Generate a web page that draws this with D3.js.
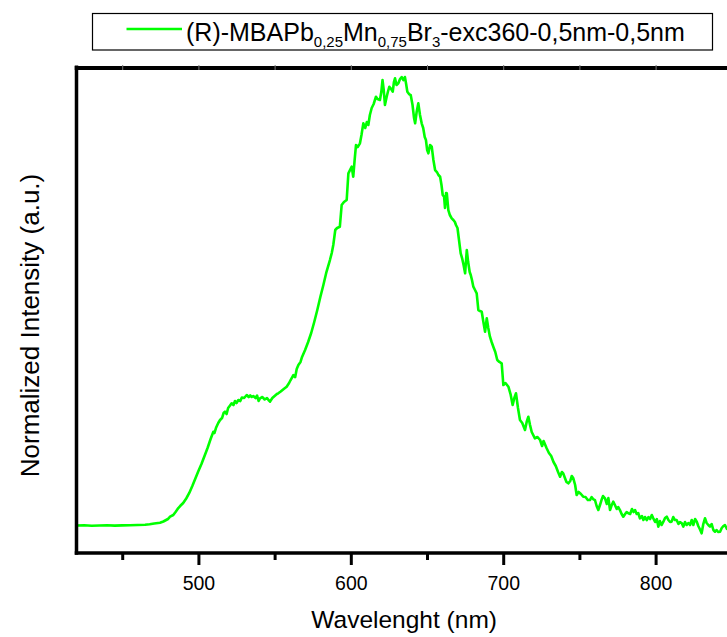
<!DOCTYPE html>
<html>
<head>
<meta charset="utf-8">
<script src="https://cdn.jsdelivr.net/npm/d3@7"></script>
<style>
  html, body { margin: 0; padding: 0; background: #fff; }
  svg { display: block; font-family: "Liberation Sans", Arial, sans-serif; }
</style>
</head>
<body>
<svg id="chart" width="727" height="637"></svg>
<script>
// Emission spectrum (normalized), wavelength in nm
const wavelength = [
  420, 425, 430, 435, 440, 445, 450, 455, 460, 465, 468, 471, 474.8, 477, 480, 481.4, 483.5, 485, 486.8, 488,
  490, 492, 494, 496, 498, 500, 502, 504, 506, 508, 509.8, 510.5, 511.5, 513, 514.2, 515.5, 516.5, 517.4, 518.5,
  519.5, 520.5, 521.8, 523, 524, 525, 526.2, 527.5, 528.5, 530, 531.7, 533, 534, 535, 536, 537.5, 538.5, 539.5, 540.4, 542,
  543.5, 545, 546, 547, 548.5, 550, 551.5, 552.4, 554, 556, 557.9, 559.5, 560.5, 562.3, 563.5, 564.5, 565.6, 567, 568, 570,
  572, 574, 576, 578, 580, 582, 584, 586.3, 587.5, 588.5, 589.8, 591, 592.8, 594, 595.5, 597.3, 598.4, 600.6, 601.6, 602.5,
  603.4, 604.5, 606, 607, 608.2, 609.5, 610.5, 611.5, 612.5, 613.7, 615, 616.5, 617.5, 619.1, 620, 620.8, 621.6, 622.4, 623.5, 624.3,
  625.3, 626.5, 627.5, 628.3, 629, 630, 631.2, 632.3, 633.4, 634.5, 635.5, 636.3, 637.1, 638.2, 639.3, 640.5, 641.5, 642.2, 643.2, 644.3,
  645.4, 646.5, 647.5, 648.5, 649.3, 650.1, 650.9, 652, 653.1, 654.2, 655.3, 656.5, 657.5, 658.6, 659.5, 660.3, 661.2, 661.8, 662.5, 663,
  664, 665, 666.2, 667.3, 668.3, 669, 670, 671, 672.1, 673, 674, 675, 676.1, 677, 678, 678.7, 679.5, 680.4, 681.5, 682.6,
  683.7, 684.8, 685.9, 687, 688.1, 689.2, 690.2, 691.3, 692.4, 693.5, 694.8, 696.1, 697.5, 699, 700.1, 701.5, 703.4, 704.8, 706.2, 707.3,
  708.4, 709.7, 711, 712.5, 714.3, 715.4, 716.5, 717.6, 718.7, 720.8, 722.5, 724.2, 725.5, 726.5, 728.5, 730, 731.5, 733, 734.5, 736,
  737.3, 738.5, 739.4, 740.5, 741.5, 742.7, 744, 745, 746, 747.2, 748.2, 749.5, 751, 752.5, 754, 755.5, 756.9, 758, 759, 760.2,
  761.3, 762.4, 763.5, 764.5, 765.5, 766.8, 768, 769, 770.1, 771.2, 772.2, 773.3, 774.5, 775.5, 776.6, 777.7, 778.8, 780, 781, 782.1,
  783.3, 784.5, 785.5, 786.5, 787.6, 788.6, 789.7, 791, 792, 793, 794.2, 795.3, 796.4, 797.5, 798.5, 799.7, 800.8, 801.8, 802.8, 803.9,
  805.1, 806.2, 807.3, 808.4, 809.5, 810.5, 811.6, 812.7, 813.8, 815, 816, 817.1, 818.2, 819.3, 820.4, 821.5, 822.6, 823.7, 824.8, 825.9,
  827, 828, 829, 830.2, 831.3, 832.4, 833.5, 834.6, 835.7, 836.8, 837.9, 839, 840, 841.2, 842.3, 843.4, 844.5, 845.5, 846.8, 848,
  849, 850
];
const intensity = [
  0.0578, 0.0582, 0.0571, 0.0578, 0.0582, 0.0576, 0.0580, 0.0584, 0.0588, 0.0592, 0.0603, 0.0620, 0.0637, 0.0662, 0.0714, 0.0763, 0.0798, 0.0861, 0.0945, 0.0987,
  0.1050, 0.1145, 0.1261, 0.1408, 0.1565, 0.1723, 0.1870, 0.2038, 0.2206, 0.2395, 0.2548, 0.2521, 0.2626, 0.2731, 0.2794, 0.2836, 0.2941, 0.2968, 0.2920,
  0.3046, 0.3088, 0.3145, 0.3109, 0.3193, 0.3151, 0.3214, 0.3193, 0.3267, 0.3256, 0.3319, 0.3277, 0.3309, 0.3277, 0.3298, 0.3256, 0.3309, 0.3193, 0.3250, 0.3277,
  0.3225, 0.3256, 0.3214, 0.3179, 0.3256, 0.3298, 0.3340, 0.3355, 0.3393, 0.3445, 0.3494, 0.3571, 0.3634, 0.3739, 0.3697, 0.3866, 0.3950, 0.4013, 0.4118, 0.4265,
  0.4433, 0.4622, 0.4853, 0.5105, 0.5378, 0.5630, 0.5903, 0.6155, 0.6303, 0.6471, 0.6786, 0.6828, 0.6855, 0.7311, 0.7374, 0.7416, 0.7977, 0.8116, 0.7905, 0.8256,
  0.8571, 0.8529, 0.8607, 0.8782, 0.9027, 0.8929, 0.9055, 0.8992, 0.9202, 0.9349, 0.9433, 0.9586, 0.9538, 0.9517, 0.9685, 0.9937, 0.9727, 0.9412, 0.9580, 0.9685,
  0.9796, 0.9748, 0.9691, 0.9895, 0.9973, 0.9832, 0.9868, 0.9958, 1.0000, 0.9937, 1.0000, 0.9853, 0.9691, 0.9643, 0.9622, 0.9412, 0.9139, 0.9027, 0.9265, 0.9447,
  0.9202, 0.9027, 0.8929, 0.8739, 0.8676, 0.8466, 0.8397, 0.8571, 0.8536, 0.8256, 0.8046, 0.8004, 0.7941, 0.7905, 0.7731, 0.7521, 0.7485, 0.7248, 0.7563, 0.7557,
  0.7206, 0.7101, 0.7032, 0.6996, 0.6954, 0.6891, 0.6828, 0.6576, 0.6296, 0.6197, 0.6050, 0.5876, 0.6366, 0.6113, 0.5903, 0.5840, 0.5735, 0.5595, 0.5525, 0.5456,
  0.5105, 0.5084, 0.5069, 0.4853, 0.4649, 0.4931, 0.4727, 0.4544, 0.4433, 0.4334, 0.4223, 0.4055, 0.4013, 0.3985, 0.3529, 0.3571, 0.3494, 0.3340, 0.3109, 0.3256,
  0.3355, 0.3046, 0.2794, 0.2731, 0.2584, 0.2752, 0.2863, 0.2689, 0.2542, 0.2410, 0.2437, 0.2374, 0.2248, 0.2353, 0.2200, 0.2101, 0.2038, 0.1912, 0.1828, 0.1702,
  0.1603, 0.1702, 0.1674, 0.1576, 0.1492, 0.1464, 0.1513, 0.1618, 0.1569, 0.1429, 0.1218, 0.1282, 0.1239, 0.1183, 0.1176, 0.1113, 0.1113, 0.1176, 0.1134, 0.1113,
  0.0987, 0.0903, 0.1008, 0.1113, 0.1197, 0.1149, 0.1029, 0.1155, 0.0903, 0.1008, 0.1078, 0.1008, 0.0924, 0.0966, 0.0903, 0.0819, 0.0763, 0.0819, 0.0861, 0.0834,
  0.0819, 0.0924, 0.0861, 0.0903, 0.0819, 0.0840, 0.0729, 0.0777, 0.0693, 0.0756, 0.0693, 0.0756, 0.0714, 0.0798, 0.0729, 0.0651, 0.0714, 0.0553, 0.0672, 0.0588,
  0.0658, 0.0735, 0.0763, 0.0693, 0.0651, 0.0658, 0.0756, 0.0693, 0.0693, 0.0609, 0.0651, 0.0630, 0.0553, 0.0651, 0.0588, 0.0630, 0.0588, 0.0693, 0.0588, 0.0714,
  0.0658, 0.0567, 0.0504, 0.0414, 0.0609, 0.0729, 0.0630, 0.0588, 0.0553, 0.0609, 0.0483, 0.0447, 0.0483, 0.0441, 0.0447, 0.0525, 0.0567, 0.0588, 0.0504, 0.0567,
  0.0525, 0.0546
];

const xTicks = [450, 500, 550, 600, 650, 700, 750, 800, 850];
const xTickLabels = [500, 600, 700, 800];
const seriesName = ["(R)-MBAPb", "0,25", "Mn", "0,75", "Br", "3", "-exc360-0,5nm-0,5nm"];
const xTitle = "Wavelenght (nm)";
const yTitle = "Normalized Intensity (a.u.)";
const lineColor = "#00ff00";

const svg = d3.select("#chart");
const plot = { left: 76.5, top: 67.5, right: 731.8, bottom: 553 };

const x = d3.scaleLinear().domain([420, 850]).range([plot.left, plot.right]);
const y = d3.scaleLinear().domain([0, 1.02]).range([plot.bottom, plot.top]);

const data = wavelength.map((w, i) => ({ w, v: intensity[i] }));

// spectrum
svg.append("path")
  .datum(data)
  .attr("fill", "none")
  .attr("stroke", lineColor)
  .attr("stroke-width", 2.6)
  .attr("stroke-linejoin", "round")
  .attr("d", d3.line().x(d => x(d.w)).y(d => y(d.v)));

// top frame with faint ticks
const topAxis = svg.append("g")
  .attr("transform", `translate(0,${plot.top})`)
  .call(d3.axisTop(x).tickValues(xTicks).tickSize(0).tickSizeOuter(0).tickFormat(""));
topAxis.select(".domain").attr("stroke", "#000").attr("stroke-width", 4)
  .attr("d", `M${plot.left - 1.75},0.5H${plot.right + 10}`);
topAxis.selectAll(".tick").append("line")
  .attr("y1", -2.5).attr("y2", 2.5)
  .attr("stroke", "#777").attr("stroke-width", 1);

// bottom axis
const bottomAxis = svg.append("g")
  .attr("transform", `translate(0,${plot.bottom})`)
  .call(d3.axisBottom(x).tickValues(xTicks).tickSizeOuter(0).tickSize(0).tickFormat(""));
bottomAxis.select(".domain").attr("stroke", "#000").attr("stroke-width", 3.5)
  .attr("d", `M${plot.left - 1.75},0H${plot.right + 10}`);
bottomAxis.selectAll(".tick line")
  .attr("stroke", "#000").attr("stroke-width", 3)
  .attr("y1", 1).attr("y2", d => xTickLabels.includes(d) ? 12 : 7);
bottomAxis.selectAll(".tick")
  .filter(d => xTickLabels.includes(d))
  .append("text")
  .attr("y", 37)
  .attr("fill", "#000")
  .attr("text-anchor", "middle")
  .style("font-size", "19.5px")
  .style("font-family", "'Liberation Sans', Arial, sans-serif")
  .text(d => d);

// left axis
const leftAxis = svg.append("g")
  .attr("transform", `translate(${plot.left},0)`)
  .call(d3.axisLeft(y).tickValues([]).tickSizeOuter(0));
leftAxis.select(".domain").attr("stroke", "#000").attr("stroke-width", 3.5)
  .attr("d", `M0,${plot.top - 2}V${plot.bottom + 1.75}`);

// axis titles
svg.append("text")
  .attr("x", (plot.left + plot.right) / 2)
  .attr("y", 628)
  .attr("text-anchor", "middle")
  .style("font-size", "24.5px")
  .text(xTitle);

svg.append("text")
  .attr("transform", `translate(39,325.5) rotate(-90)`)
  .attr("text-anchor", "middle")
  .style("font-size", "26px")
  .text(yTitle);

// legend
const legend = svg.append("g");
legend.append("rect")
  .attr("x", 92.5).attr("y", 13.5)
  .attr("width", 620).attr("height", 36.5)
  .attr("fill", "#fff").attr("stroke", "#000").attr("stroke-width", 1.2);
legend.append("line")
  .attr("x1", 126.5).attr("x2", 182)
  .attr("y1", 29).attr("y2", 29)
  .attr("stroke", lineColor).attr("stroke-width", 2.6);
const label = legend.append("text")
  .attr("x", 186).attr("y", 40.5)
  .style("font-size", "25px");
seriesName.forEach((part, i) => {
  const isSub = i % 2 === 1;
  label.append("tspan")
    .attr("dy", i === 0 ? 0 : (isSub ? 6.5 : -6.5))
    .style("font-size", isSub ? "15px" : "25px")
    .text(part);
});
</script>
</body>
</html>
